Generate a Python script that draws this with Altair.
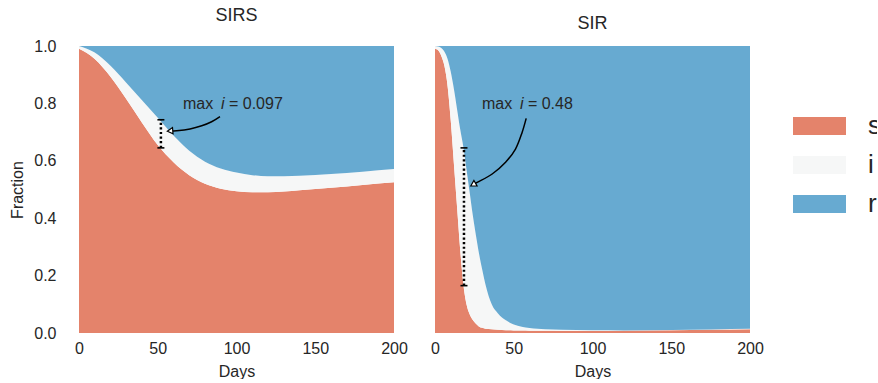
import altair as alt
import pandas as pd

# ---------------- data ----------------
series = ["s", "i", "r"]
colors = ["#e4836b", "#f6f7f7", "#67aad1"]

sirs_days = [0, 10, 20, 30, 40, 50, 60, 70, 80, 90, 100, 110, 120, 140, 160, 180, 200]
sirs_s = [0.99, 0.955, 0.893, 0.815, 0.733, 0.655, 0.595, 0.550, 0.520, 0.503, 0.494,
          0.490, 0.490, 0.497, 0.506, 0.516, 0.525]
sirs_i = [0.01, 0.022, 0.038, 0.057, 0.078, 0.095, 0.093, 0.085, 0.077, 0.070, 0.065,
          0.060, 0.056, 0.051, 0.048, 0.046, 0.046]

sir_days = [0, 2, 4, 6, 8, 10, 12, 14, 16, 18, 20, 22, 24, 26, 28, 30, 32, 36, 40, 45,
            50, 55, 60, 70, 80, 100, 120, 150, 175, 200]
sir_s = [0.99, 0.985, 0.965, 0.93, 0.86, 0.74, 0.59, 0.44, 0.29, 0.17, 0.10, 0.065,
         0.045, 0.032, 0.022, 0.018, 0.015, 0.013, 0.011, 0.010, 0.009, 0.0085, 0.008,
         0.0075, 0.007, 0.007, 0.0078, 0.0095, 0.0115, 0.0135]
sir_i = [0.01, 0.013, 0.028, 0.05, 0.095, 0.17, 0.26, 0.34, 0.42, 0.478, 0.47, 0.425,
         0.365, 0.308, 0.253, 0.202, 0.155, 0.087, 0.057, 0.034, 0.021, 0.0135, 0.009,
         0.0055, 0.004, 0.0025, 0.0012, 0.001, 0.001, 0.001]

# annotation: peak of i
ann_models = ["SIRS", "SIR"]
ann_day = [52, 18.4]
ann_lo = [0.645, 0.165]
ann_hi = [0.743, 0.645]
ann_value = ["= 0.097", "= 0.48"]
ann_text_day = [66.0, 29.8]
ann_text_frac = [0.78, 0.78]
arrow_head_angle = [355, 330]

# arrow paths (days, fraction)
sirs_arrow_day = [89.5, 84.2, 77.9, 70.5, 62.0, 57.8]
sirs_arrow_frac = [0.754, 0.736, 0.722, 0.711, 0.705, 0.704]
sir_arrow_day = [57.9, 55.3, 51.1, 44.8, 36.3, 26.8, 24.2]
sir_arrow_frac = [0.748, 0.699, 0.641, 0.595, 0.554, 0.525, 0.517]

# ---------------- tables ----------------
def band_rows(model, days, s, i):
    rows = []
    for d, sv, iv in zip(days, s, i):
        rows.append({"model": model, "day": d, "series": "s", "lo": 0.0, "hi": sv})
        rows.append({"model": model, "day": d, "series": "i", "lo": sv, "hi": sv + iv})
        rows.append({"model": model, "day": d, "series": "r", "lo": sv + iv, "hi": 1.0})
    return rows

area_df = pd.DataFrame(band_rows("SIRS", sirs_days, sirs_s, sirs_i) +
                       band_rows("SIR", sir_days, sir_s, sir_i))

ann_df = pd.DataFrame({"model": ann_models, "day": ann_day, "lo": ann_lo, "hi": ann_hi,
                       "value": ann_value, "tday": ann_text_day, "tfrac": ann_text_frac})

arrow_df = pd.DataFrame(
    [{"model": "SIRS", "k": k, "day": d, "frac": f}
     for k, (d, f) in enumerate(zip(sirs_arrow_day, sirs_arrow_frac))] +
    [{"model": "SIR", "k": k, "day": d, "frac": f}
     for k, (d, f) in enumerate(zip(sir_arrow_day, sir_arrow_frac))])

FONT = "Liberation Sans"
TXT = "#262626"
W, H = 315, 287


def panel(model, idx, show_y):
    d = area_df[area_df.model == model]
    a = ann_df[ann_df.model == model]
    ar = arrow_df[arrow_df.model == model]
    head = ar[ar.k == ar.k.max()]

    xenc = alt.X("day:Q", scale=alt.Scale(domain=[0, 200], nice=False, zero=False),
                 axis=alt.Axis(values=[0, 50, 100, 150, 200], title="Days", labelFlush=False,
                               labelPadding=7, titlePadding=7, format="d"))
    if show_y:
        yaxis = alt.Axis(values=[0, 0.2, 0.4, 0.6, 0.8, 1.0], format=".1f", title="Fraction",
                         labelPadding=23, titlePadding=8)
    else:
        yaxis = None
    yscale = alt.Scale(domain=[0, 1], nice=False)

    areas = alt.Chart(d).mark_area(interpolate="monotone", opacity=1).encode(
        x=xenc,
        y=alt.Y("lo:Q", scale=yscale, axis=yaxis),
        y2="hi:Q",
        color=alt.Color("series:N", scale=alt.Scale(domain=series, range=colors),
                        legend=alt.Legend(title=None, orient="none", legendX=714, legendY=71,
                                          symbolType="M-1,-0.34H1V0.34H-1Z", symbolSize=2809,
                                          symbolStrokeWidth=0, symbolOpacity=1,
                                          labelFontSize=26, labelOffset=22, clipHeight=18,
                                          rowPadding=13, padding=0, labelFont=FONT,
                                          labelColor=TXT)),
    )

    rule = alt.Chart(a).mark_rule(color="black", strokeWidth=2.5, strokeDash=[2.2, 2.4]).encode(
        x="day:Q", y="lo:Q", y2="hi:Q")
    cap_lo = alt.Chart(a).mark_point(shape="stroke", size=49, color="black", strokeWidth=1.6,
                                     opacity=1).encode(x="day:Q", y="lo:Q")
    cap_hi = alt.Chart(a).mark_point(shape="stroke", size=49, color="black", strokeWidth=1.6,
                                     opacity=1).encode(x="day:Q", y="hi:Q")

    arrow = alt.Chart(ar).mark_line(color="black", strokeWidth=1.5,
                                    interpolate="catmull-rom").encode(
        x="day:Q", y="frac:Q", order="k:O")
    head_mark = alt.Chart(head).mark_point(shape="triangle-left", filled=True, fill="white",
                                           stroke="black", strokeWidth=1.2, size=40, opacity=1,
                                           angle=arrow_head_angle[idx]).encode(
        x="day:Q", y="frac:Q")

    t_max = alt.Chart(a).mark_text(align="left", baseline="alphabetic", fontSize=16,
                                   font=FONT, color=TXT).encode(
        x="tday:Q", y="tfrac:Q", text=alt.value("max"))
    t_i = alt.Chart(a).mark_text(align="left", baseline="alphabetic", fontSize=16,
                                 font=FONT, color=TXT, fontStyle="italic", dx=38).encode(
        x="tday:Q", y="tfrac:Q", text=alt.value("i"))
    t_val = alt.Chart(a).mark_text(align="left", baseline="alphabetic", fontSize=16,
                                   font=FONT, color=TXT, dx=46).encode(
        x="tday:Q", y="tfrac:Q", text="value:N")

    return alt.layer(areas, rule, cap_lo, cap_hi, arrow, head_mark, t_max, t_i, t_val).properties(
        width=W, height=H, title=model)


chart = alt.hconcat(panel("SIRS", 0, True), panel("SIR", 1, False), spacing=22).resolve_scale(
    color="shared").resolve_legend(color="shared").properties(
    padding={"left": 9, "top": 7, "right": -4, "bottom": 0}
).configure_view(stroke=None).configure_axis(
    grid=False, domain=False, ticks=False, labelFontSize=16, titleFontSize=16,
    labelFont=FONT, titleFont=FONT, labelColor=TXT, titleColor=TXT, titleFontWeight="normal"
).configure_title(
    fontSize=18, fontWeight="normal", font=FONT, color=TXT, offset=13, baseline="alphabetic"
)

chart.save("out.html", embed_options={"renderer": "svg", "actions": False})
